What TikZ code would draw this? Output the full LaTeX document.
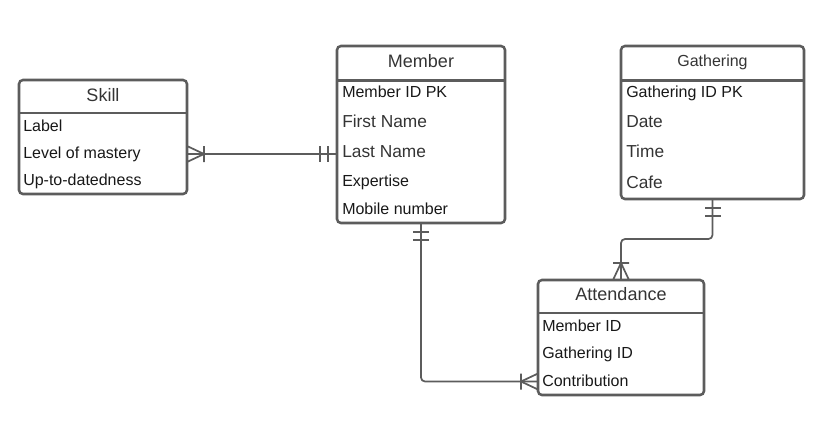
\documentclass[tikz,border=0pt]{standalone}
\usepackage{fontspec}
\setmainfont{Liberation Sans}
\usetikzlibrary{positioning,decorations.markings}
\definecolor{edge}{RGB}{92,92,92}
\definecolor{ink}{RGB}{24,24,24}
\definecolor{head}{RGB}{52,52,52}

\tikzset{
  entity/.style={draw=edge, line width=1.9pt, rounded corners=3pt, anchor=north west, inner sep=0pt, outer sep=0pt},
  rule/.style={draw=edge, line width=1.9pt},
  title/.style={anchor=base, inner sep=0pt, text=head, font=\fontsize{13.5}{16}\selectfont},
  row/.style={anchor=base west, inner sep=0pt, text=ink, font=\fontsize{12}{14}\selectfont},
  bigrow/.style={row, text=head, font=\fontsize{13}{15}\selectfont},
  link/.style={draw=edge, line width=1.3pt, rounded corners=3pt},
  footline/.style={draw=edge, line width=1.3pt, sharp corners},
  one start/.style={postaction={decorate, decoration={markings, mark=at position 0 with {\draw[footline] (9,-8) -- (9,8) (17,-8) -- (17,8);}}}},
  many start/.style={postaction={decorate, decoration={markings, mark=at position 0 with {\draw[footline] (0,8) -- (17,0) -- (0,-8) (17,-8) -- (17,8);}}}},
  one end/.style={postaction={decorate, decoration={markings, mark=at position 1 with {\draw[footline] (-9,-8) -- (-9,8) (-17,-8) -- (-17,8);}}}},
  many end/.style={postaction={decorate, decoration={markings, mark=at position 1 with {\draw[footline] (0,8) -- (-17,0) -- (0,-8) (-17,-8) -- (-17,8);}}}}
}

\begin{document}
\begin{tikzpicture}[x=0.75pt, y=-0.75pt]
  \useasboundingbox (0,0) rectangle (822,447);

  \node[entity, minimum width=168*0.75pt, minimum height=114*0.75pt] (skill) at (19,80) {};
  \draw[rule] (skill.west |- 0,113) -- (skill.east |- 0,113);
  \node[title] (skillT) at (103,101) {Skill};
  \node[row] (skillA) at (23,131) {Label};
  \node[row] (skillB) at (23,158) {Level of mastery};
  \node[row] (skillC) at (23,185) {Up-to-datedness};

  \node[entity, minimum width=168*0.75pt, minimum height=177*0.75pt] (member) at (337,46) {};
  \draw[rule] (member.west |- 0,80.5) -- (member.east |- 0,80.5);
  \node[title] (memberT) at (421,67) {Member};
  \node[row] (memberA) at (342,97) {Member ID PK};
  \node[bigrow] (memberB) at (342,127) {First Name};
  \node[bigrow] (memberC) at (342,157) {Last Name};
  \node[row] (memberD) at (342,186) {Expertise};
  \node[row] (memberE) at (342,214) {Mobile number};

  \node[entity, minimum width=183*0.75pt, minimum height=153*0.75pt] (gath) at (621,46) {};
  \draw[rule] (gath.west |- 0,80.5) -- (gath.east |- 0,80.5);
  \node[title, font=\fontsize{12}{14}\selectfont] (gathT) at (712.5,66.7) {Gathering};
  \node[row] (gathA) at (626,97) {Gathering ID PK};
  \node[bigrow] (gathB) at (626,127) {Date};
  \node[bigrow] (gathC) at (626,157) {Time};
  \node[bigrow] (gathD) at (626,188) {Cafe};

  \node[entity, minimum width=166*0.75pt, minimum height=115*0.75pt] (att) at (538,280) {};
  \draw[rule] (att.west |- 0,313) -- (att.east |- 0,313);
  \node[title] (attT) at (621,300) {Attendance};
  \node[row] (attA) at (542,331) {Member ID};
  \node[row] (attB) at (542,358) {Gathering ID};
  \node[row] (attC) at (542,386) {Contribution};

  \draw[link, many start, one end] (skill.east |- 0,154) -- (member.west |- 0,154);
  \draw[link, one start, many end] (member.south) |- (att.west |- 0,381.5);
  \draw[link, one start, many end] (gath.south) -- ++(0,40) -| (att.north);
\end{tikzpicture}
\end{document}
